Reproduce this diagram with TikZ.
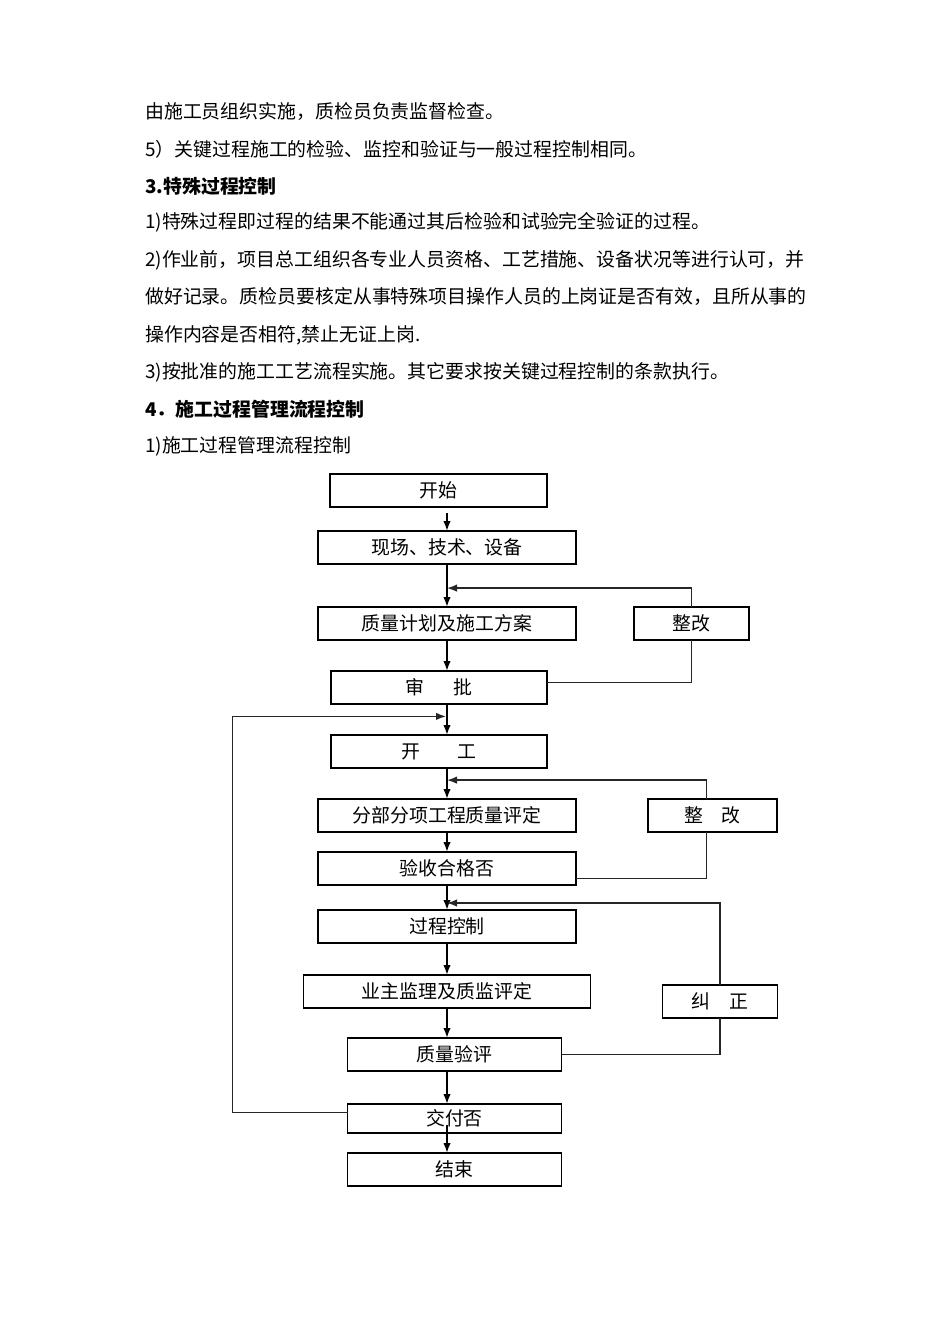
\documentclass[tikz,border=0pt]{standalone}
\usepackage{fontspec}
\setmainfont{Noto Sans CJK SC}
\usetikzlibrary{arrows.meta,calc,positioning}
\newcommand{\docsize}{\fontsize{18.9}{22}\selectfont}
\tikzset{
  textline/.style={anchor=west, inner sep=0pt, font=\docsize},
  headline/.style={textline, font=\docsize\bfseries},
  flowbox/.style={draw, line width=1.4pt, minimum height=33pt, inner sep=0pt, outer sep=0pt, font=\docsize},
  narrowbox/.style={flowbox, minimum width=216pt},
  widebox/.style={flowbox, minimum width=258pt},
  endbox/.style={flowbox, minimum width=214pt},
  sidebox/.style={flowbox, minimum width=115pt},
  arrow/.style={-{Latex[length=10pt,width=7.5pt]}, line width=1.7pt},
  backline/.style={line width=1.5pt, draw=black!85},
  backarrow/.style={backline, -{Latex[length=10pt,width=7.5pt]}}
}

\begin{document}
\begin{tikzpicture}[x=1pt, y=-1pt, node distance=31pt]
  \useasboundingbox (0,0) rectangle (950,1344);
  % text above the chart
  \node[textline] (t1) at (145,112) {由施工员组织实施，质检员负责监督检查。};
  \node[textline] (t2) at (145,149) {5）关键过程施工的检验、监控和验证与一般过程控制相同。};
  \node[headline] (t3) at (145,186) {3.特殊过程控制};
  \node[textline] (t4) at (145,222) {1)特殊过程即过程的结果不能通过其后检验和试验完全验证的过程。};
  \node[textline] (t5) at (145,260) {2)作业前，项目总工组织各专业人员资格、工艺措施、设备状况等进行认可，并};
  \node[textline] (t6) at (145,297) {做好记录。质检员要核定从事特殊项目操作人员的上岗证是否有效，且所从事的};
  \node[textline] (t7) at (145,335) {操作内容是否相符,禁止无证上岗.};
  \node[textline] (t8) at (145,372) {3)按批准的施工工艺流程实施。其它要求按关键过程控制的条款执行。};
  \node[headline] (t9) at (145,409) {4．施工过程管理流程控制};
  \node[textline] (t10) at (145,446) {1)施工过程管理流程控制};

  % flow chart
  \node[flowbox, minimum width=217pt] (start) at (438.5,490.5) {开始};
  \node[widebox, below=24pt of start, xshift=8.5pt] (scene) {现场、技术、设备};
  \node[widebox, below=43pt of scene] (plan) {质量计划及施工方案};
  \node[sidebox, right=58pt of plan] (fix1) {整改};
  \node[narrowbox, below=of plan, xshift=-8pt] (approve) {审\hspace{1.5em}批};
  \node[narrowbox, below=of approve] (begin) {开\hspace{2em}工};
  \node[widebox, below=of begin, xshift=8pt] (subeval) {分部分项工程质量评定};
  \node[sidebox, minimum width=129pt, right=72pt of subeval] (fix2) {整\hspace{1em}改};
  \node[widebox, below=20pt of subeval] (check) {验收合格否};
  \node[widebox, below=25pt of check] (control) {过程控制};
  \node[flowbox, minimum width=287pt, below=32pt of control] (owner) {业主监理及质监评定};
  \node[sidebox, right=72pt of owner, yshift=-10pt] (correct) {纠\hspace{1em}正};
  \node[endbox, below=30pt of owner, xshift=7.5pt] (evaluate) {质量验评};
  \node[endbox, minimum height=29pt, below=33pt of evaluate] (deliver) {交付否};
  \node[endbox, below=20pt of deliver] (finish) {结束};

  \coordinate (axis) at (scene.south);
  \coordinate (m1) at ($(scene.south)!0.56!(plan.north)$);
  \coordinate (m2) at ($(approve.south -| axis)!0.4!(begin.north -| axis)$);
  \coordinate (m3) at ($(begin.south -| axis)!0.39!(subeval.north)$);
  \coordinate (m4) at ($(check.south)!0.72!(control.north)$);
  \coordinate (loopx) at ([xshift=-115pt]deliver.west);

  % main line
  \draw[arrow, shorten <=6pt] (start.south -| axis) -- (scene.north);
  \draw[arrow] (scene) -- (plan);
  \draw[arrow] (plan.south) -- (approve.north -| axis);
  \draw[arrow] (approve.south -| axis) -- (begin.north -| axis);
  \draw[arrow] (begin.south -| axis) -- (subeval.north);
  \draw[arrow] (subeval) -- (check);
  \draw[arrow] (check) -- (control);
  \draw[arrow] (control) -- (owner);
  \draw[arrow] (owner.south -| axis) -- (evaluate.north -| axis);
  \draw[arrow] (evaluate.south -| axis) -- (deliver.north -| axis);
  \draw[arrow, shorten <=-8pt] (deliver.south -| axis) -- (finish.north -| axis);

  % feedback loops
  \draw[backarrow] (fix1.north) |- (m1);
  \draw[backline] ([yshift=5pt]approve.east) -| (fix1.south);
  \draw[backarrow, shorten >=1pt] ([yshift=6pt]deliver.west) -| (loopx |- m2) -- (m2);
  \draw[backarrow] ([xshift=-6pt]fix2.north) |- (m3);
  \draw[backline] ([yshift=-10pt]check.east) -| ([xshift=-6pt]fix2.south);
  \draw[backarrow] (correct.north) |- (m4);
  \draw[backline] (evaluate.east) -| (correct.south);
\end{tikzpicture}
\end{document}
